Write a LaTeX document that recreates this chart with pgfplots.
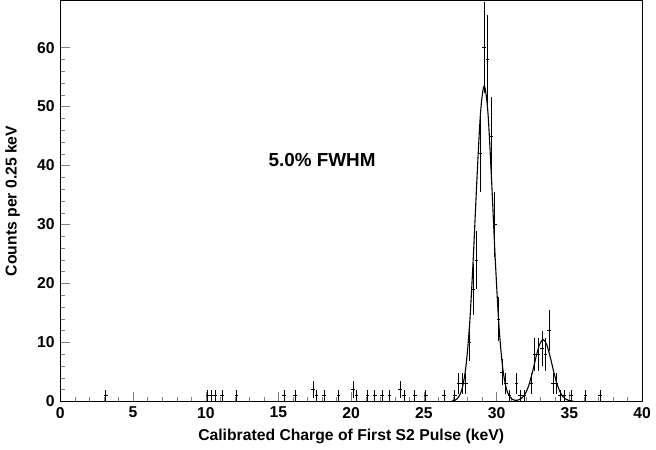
\documentclass[border=0pt]{standalone}
\usepackage{pgfplots}
\pgfplotsset{compat=1.18}
\usepackage{fontspec}
\setmainfont{Liberation Sans}
\begin{document}
\begin{tikzpicture}
\begin{axis}[width=415pt,height=300pt,
 xmin=0,xmax=40,ymin=0,ymax=68,
 xtick={0,5,...,40},ytick={0,10,...,60},
 minor x tick num=4, minor y tick num=4,
 tick align=inside, xtick pos=bottom, ytick pos=left,
 major tick length=6pt, minor tick length=3pt,
 tick label style={font=\bfseries},
 /pgf/number format/assume math mode=true,
 xlabel={\bfseries Calibrated Charge of First S2 Pulse (keV)},
 ylabel={\bfseries Counts per 0.25 keV},
 ylabel style={yshift=4pt},
 line width=0.6pt]
\addplot[draw=none,mark=none,line width=0.4pt,
 error bars/.cd,x dir=both,x explicit,y dir=both,y explicit,error mark=none,
 error bar style={black,line width=0.4pt}]
 table[x=x,y=y,x error=ex,y error=ey]{
x y ex ey
3.125 1 0.125 1
10.125 1 0.125 1
10.375 1 0.125 1
10.625 1 0.125 1
11.125 1 0.125 1
12.125 1 0.125 1
15.375 1 0.125 1
16.125 1 0.125 1
17.375 2 0.125 1.41
17.625 1 0.125 1
18.125 1 0.125 1
19.125 1 0.125 1
20.125 2 0.125 1.41
20.375 1 0.125 1
21.125 1 0.125 1
21.625 1 0.125 1
22.125 1 0.125 1
22.625 1 0.125 1
23.375 2 0.125 1.41
23.625 1 0.125 1
24.375 1 0.125 1
25.125 1 0.125 1
26.375 1 0.125 1
27.125 1 0.125 1
27.375 3 0.125 1.73
27.625 3 0.125 1.73
27.875 3 0.125 1.73
28.125 10 0.125 3.16
28.375 19 0.125 4.36
28.625 24 0.125 4.9
28.875 42 0.125 6.48
29.125 60 0.125 7.75
29.375 58 0.125 7.6
29.625 45 0.125 6.7
29.875 30 0.125 5.48
30.125 14 0.125 3.74
30.375 5 0.125 2.24
30.625 3 0.125 1.73
30.875 1 0.125 1
31.375 3 0.125 1.73
31.625 1 0.125 1
31.875 1 0.125 1
32.375 3 0.125 1.73
32.625 8 0.125 2.83
32.875 8 0.125 2.83
33.125 9 0.125 3
33.375 8 0.125 2.83
33.625 12 0.125 3.46
33.875 3 0.125 1.73
34.125 3 0.125 1.73
34.375 1 0.125 1
34.625 1 0.125 1
35.125 1 0.125 1
36.125 1 0.125 1
37.125 1 0.125 1
};
\addplot[black,smooth,line width=0.7pt] coordinates {
(26.9,0.03)(27.15,0.2)(27.4,0.77)(27.65,2.35)(27.9,6.1)(28.15,13.3)(28.4,24.5)(28.65,37.8)(28.9,49.1)(29.15,53.5)(29.4,49.1)(29.65,37.8)(29.9,24.5)(30.15,13.3)(30.4,6.1)(30.65,2.35)(30.9,0.8)(31.15,0.25)(31.45,0.2)(31.7,0.5)(31.95,1.2)(32.2,2.6)(32.45,4.8)(32.7,7.4)(32.95,9.6)(33.2,10.5)(33.45,9.6)(33.7,7.4)(33.95,4.8)(34.2,2.6)(34.45,1.2)(34.7,0.46)(34.95,0.15)(35.3,0.03)};
\node[font=\bfseries\large] at (axis cs:18,41) {5.0\% FWHM};
\end{axis}
\end{tikzpicture}
\end{document}
